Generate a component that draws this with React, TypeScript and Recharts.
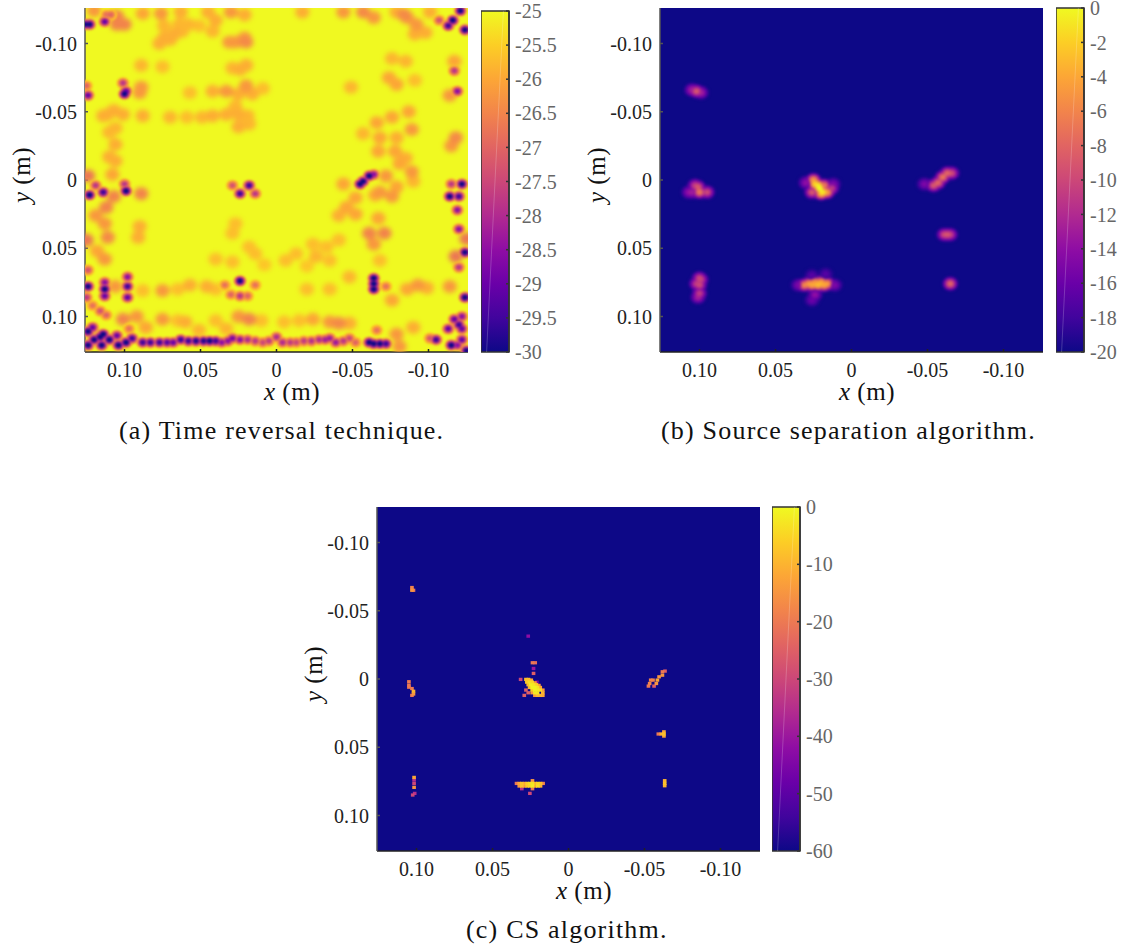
import {
  Area,
  AreaChart,
  CartesianGrid,
  Label,
  ReferenceArea,
  ReferenceLine,
  Scatter,
  ScatterChart,
  XAxis,
  YAxis,
} from 'recharts';

type HeatCell = [number, number, number]; // x (m), y (m), level

const FONT = '"Liberation Serif", serif';
const PLASMA = ['#0d0887', '#41049d', '#6a00a8', '#8f0da4', '#b12a90', '#cc4778', '#e16462', '#f2844b', '#fca636', '#fcce25', '#f0f921'];

const axisTicks = [0.1, 0.05, 0, -0.05, -0.1];
const trBarTicks = [-25, -25.5, -26, -26.5, -27, -27.5, -28, -28.5, -29, -29.5, -30];
const sepBarTicks = [0, -2, -4, -6, -8, -10, -12, -14, -16, -18, -20];
const csBarTicks = [0, -10, -20, -30, -40, -50, -60];

// time reversal map
const trTopLeft: HeatCell[] = [
  [0.123, -0.114, -30], [0.126, -0.114, -30], [0.113, -0.116, -29], [0.109, -0.121, -27], [0.105, -0.12, -26.5],
  [0.112, -0.121, -26.8], [0.1, -0.114, -26.5], [0.105, -0.114, -26.5], [0.088, -0.122, -26], [0.076, -0.122, -26.2],
  [0.063, -0.123, -25.9], [0.045, -0.123, -25.9], [0.03, -0.123, -26.2], [0.021, -0.121, -25.9], [0.12, -0.124, -26.2],
  [0.07, -0.103, -25.9], [0.077, -0.1, -25.9], [0.074, -0.104, -25.9], [0.067, -0.107, -25.9], [0.062, -0.109, -25.8],
  [0.064, -0.114, -25.8], [0.058, -0.114, -25.8], [0.051, -0.113, -25.7], [0.04, -0.117, -25.9], [0.042, -0.109, -25.8],
  [0.074, -0.113, -25.8], [0.027, -0.101, -26.2], [0.031, -0.101, -26.2], [0.02, -0.101, -26.4], [0.021, -0.104, -26.2],
  [0.024, -0.081, -25.9], [0.02, -0.084, -25.9], [0.029, -0.082, -25.8], [0.089, -0.084, -25.8], [0.075, -0.083, -25.7],
  [0.101, -0.071, -27.8], [0.1, -0.063, -30], [0.099, -0.065, -29], [0.125, -0.069, -27], [0.124, -0.062, -29],
  [0.089, -0.068, -26.2], [0.09, -0.064, -26.2], [0.033, -0.065, -26.2], [0.042, -0.065, -25.9], [0.02, -0.069, -26.2],
  [0.016, -0.063, -25.9], [0.025, -0.063, -25.9], [0.057, -0.064, -25.7], [0.009, -0.067, -25.7],
  [0.111, -0.048, -25.9], [0.107, -0.051, -25.9], [0.114, -0.047, -25.9], [0.101, -0.048, -25.9], [0.088, -0.047, -25.9],
  [0.07, -0.046, -25.8], [0.059, -0.046, -25.7], [0.049, -0.046, -25.8], [0.042, -0.047, -25.9], [0.033, -0.048, -25.9],
  [0.025, -0.048, -25.9], [0.019, -0.047, -25.8], [0.027, -0.054, -25.8], [0.025, -0.039, -25.9], [0.018, -0.041, -25.8],
  [0.106, -0.038, -25.8], [0.11, -0.035, -25.8], [0.106, -0.026, -25.9], [0.11, -0.017, -25.9], [0.106, -0.014, -25.9],
  [0.108, -0.004, -26], [0.124, -0.003, -26.7],
];

const trMiddleLeft: HeatCell[] = [
  [0.119, 0.004, -27.8], [0.123, 0.011, -30], [0.114, 0.009, -29.5], [0.099, 0.008, -30], [0.1, 0.003, -27.8],
  [0.089, 0.01, -26.5], [0.029, 0.004, -27.3], [0.024, 0.01, -29.5], [0.018, 0.004, -29.5], [0.014, 0.01, -27.8],
  [0.112, 0.02, -26.5], [0.107, 0.012, -26.5], [0.119, 0.026, -26.2], [0.113, 0.032, -26.2], [0.111, 0.042, -26.4],
  [0.125, 0.044, -26.7], [0.118, 0.052, -26], [0.113, 0.058, -26.2], [0.09, 0.034, -25.9], [0.091, 0.042, -25.9],
  [0.029, 0.039, -25.7], [0.027, 0.032, -25.7], [0.018, 0.049, -25.7], [0.014, 0.054, -25.7], [0.04, 0.058, -25.7],
  [0.029, 0.06, -25.7],
];

const trBottomLeft: HeatCell[] = [
  [0.124, 0.078, -30], [0.113, 0.08, -30], [0.098, 0.078, -29.5], [0.098, 0.071, -28.5], [0.098, 0.086, -29],
  [0.113, 0.075, -28.5], [0.113, 0.085, -29], [0.124, 0.066, -27.3], [0.125, 0.086, -27.8], [0.106, 0.078, -26.2],
  [0.075, 0.081, -26.2], [0.024, 0.074, -30], [0.034, 0.077, -26.8], [0.014, 0.077, -26.8], [0.024, 0.085, -27.8],
  [0.03, 0.084, -27], [0.019, 0.085, -27], [0.057, 0.077, -25.9], [0.046, 0.078, -25.9], [0.088, 0.081, -25.7],
  [0.116, 0.096, -27.3], [0.112, 0.099, -27], [0.121, 0.092, -26.8], [0.121, 0.108, -29], [0.114, 0.113, -30],
  [0.11, 0.117, -30], [0.105, 0.114, -29], [0.116, 0.115, -30], [0.124, 0.111, -30], [0.124, 0.121, -30],
  [0.12, 0.117, -30], [0.115, 0.121, -30], [0.104, 0.121, -30], [0.099, 0.119, -30], [0.095, 0.116, -29.5],
  [0.092, 0.1, -26.2], [0.075, 0.102, -26.2], [0.06, 0.104, -25.9], [0.025, 0.1, -26.2], [0.018, 0.102, -26.5],
  [0.086, 0.108, -26], [0.051, 0.11, -25.8], [0.033, 0.109, -25.8], [0.101, 0.102, -26.5], [0.097, 0.109, -26.8],
  [0.065, 0.103, -25.7], [0.04, 0.103, -25.7], [0.01, 0.103, -25.7], [-0.005, 0.104, -25.7], [-0.015, 0.103, -25.7],
  [0.065, 0.08, -25.7], [0.04, 0.08, -25.7], [-0.02, 0.08, -25.7], [-0.035, 0.08, -25.7], [0.008, 0.062, -25.6],
];

const trBottomBand: HeatCell[] = [
  [0.088, 0.119, -29.5], [0.083, 0.119, -29.5], [0.077, 0.119, -29.5], [0.072, 0.119, -29.2], [0.068, 0.119, -29],
  [0.063, 0.117, -29.5], [0.058, 0.118, -29.5], [0.053, 0.118, -29.8], [0.048, 0.118, -29.8], [0.044, 0.118, -30],
  [0.04, 0.118, -29.5], [0.036, 0.119, -28.5], [0.032, 0.118, -28.5], [0.029, 0.116, -28.8], [0.024, 0.117, -28.5],
  [0.019, 0.117, -28], [0.014, 0.118, -27.8], [0.009, 0.119, -27.5], [0.005, 0.118, -27.7], [0, 0.115, -28],
  [-0.004, 0.119, -28], [-0.009, 0.119, -27.7], [-0.013, 0.119, -27.5], [-0.018, 0.118, -27.7], [-0.023, 0.118, -27.9],
  [-0.028, 0.117, -28], [-0.032, 0.117, -28.2], [-0.035, 0.116, -28.3], [-0.039, 0.119, -28.3], [-0.044, 0.118, -27.8],
  [-0.048, 0.116, -27.5], [-0.052, 0.119, -27],
];

const trTopRight: HeatCell[] = [
  [-0.044, -0.123, -26.2], [-0.057, -0.123, -26.4], [-0.064, -0.119, -26.2], [-0.017, -0.123, -25.9], [-0.084, -0.121, -26.4],
  [-0.086, -0.119, -26.2], [-0.092, -0.114, -26.2], [-0.079, -0.123, -25.9], [-0.101, -0.123, -25.9], [-0.113, -0.113, -29.5],
  [-0.116, -0.117, -30], [-0.107, -0.117, -27.3], [-0.121, -0.124, -30], [-0.124, -0.11, -30], [-0.098, -0.108, -25.9],
  [-0.091, -0.107, -25.9], [-0.076, -0.089, -25.8], [-0.085, -0.087, -25.8], [-0.074, -0.075, -26], [-0.079, -0.07, -26],
  [-0.091, -0.073, -25.7], [-0.049, -0.068, -25.8], [-0.117, -0.08, -27.8], [-0.119, -0.065, -28.5], [-0.117, -0.087, -26],
  [-0.114, -0.062, -26.2], [-0.118, -0.031, -26.4], [-0.115, -0.025, -26.2], [-0.087, -0.05, -26], [-0.076, -0.046, -26],
  [-0.066, -0.042, -26], [-0.089, -0.037, -26.2], [-0.068, -0.031, -26], [-0.079, -0.031, -25.9], [-0.078, -0.021, -26],
  [-0.067, -0.021, -26], [-0.089, -0.006, -26.2], [-0.085, -0.016, -25.9], [-0.081, -0.012, -26], [-0.072, -0.003, -26.2],
  [-0.057, -0.034, -25.8], [-0.061, -0.003, -30], [-0.055, 0.003, -30], [-0.057, 0.001, -30], [-0.064, -0.004, -28.5],
  [-0.044, 0.003, -26], [-0.122, 0.003, -30], [-0.114, 0.012, -30], [-0.12, 0.012, -29.5], [-0.115, 0.003, -27.8],
  [-0.09, 0.001, -25.8], [-0.079, 0.005, -26], [-0.068, 0.009, -26.2],
];

const trBottomRight: HeatCell[] = [
  [-0.119, 0.022, -28.5], [-0.12, 0.036, -28.5], [-0.124, 0.053, -30], [-0.12, 0.064, -27.8], [-0.118, 0.056, -26.7],
  [-0.125, 0.043, -26.7], [-0.052, 0.013, -26], [-0.065, 0.011, -26], [-0.076, 0.012, -26.2], [-0.046, 0.02, -26],
  [-0.052, 0.025, -26], [-0.041, 0.026, -25.9], [-0.061, 0.039, -26.5], [-0.071, 0.039, -26.5], [-0.064, 0.047, -26.2],
  [-0.067, 0.028, -26], [-0.026, 0.056, -25.8], [-0.013, 0.054, -25.7], [-0.033, 0.049, -25.7], [-0.024, 0.047, -25.7],
  [-0.006, 0.059, -25.7], [-0.035, 0.059, -25.7], [-0.02, 0.063, -25.6], [-0.041, 0.044, -25.7], [-0.068, 0.059, -25.7],
  [-0.064, 0.076, -30], [-0.064, 0.072, -30], [-0.064, 0.08, -30], [-0.072, 0.078, -26.8], [-0.076, 0.088, -26],
  [-0.048, 0.071, -25.8], [-0.086, 0.08, -26], [-0.093, 0.077, -26.2], [-0.099, 0.079, -25.9], [-0.114, 0.078, -26.2],
  [-0.124, 0.086, -30], [-0.117, 0.102, -29], [-0.113, 0.109, -29], [-0.12, 0.106, -29.5], [-0.122, 0.1, -28.5],
  [-0.122, 0.109, -29], [-0.122, 0.117, -29], [-0.105, 0.117, -29.5], [-0.101, 0.116, -27.3], [-0.115, 0.121, -30],
  [-0.125, 0.125, -30], [-0.119, 0.121, -28.5], [-0.035, 0.104, -26.2], [-0.041, 0.105, -26.4], [-0.024, 0.102, -26],
  [-0.048, 0.105, -25.9], [-0.064, 0.12, -30], [-0.068, 0.12, -30], [-0.061, 0.119, -30], [-0.072, 0.12, -29.5],
  [-0.066, 0.11, -26.8], [-0.079, 0.113, -26.2], [-0.081, 0.122, -26.2], [-0.09, 0.108, -25.9],
];

// source separation map
const sepLeftSources: HeatCell[] = [
  [0.102, -0.065, -9], [0.105, -0.066, -13], [0.099, -0.064, -13],
  [0.103, 0.004, -11], [0.1, 0.009, -7], [0.105, 0.009, -13], [0.095, 0.009, -10], [0.107, 0.009, -14], [0.101, 0.005, -9],
  [0.1, 0.072, -10], [0.1, 0.077, -10], [0.1, 0.083, -11], [0.102, 0.076, -11], [0.099, 0.073, -11], [0.101, 0.086, -13],
];
const sepCenterSources: HeatCell[] = [
  [0.021, 0.006, 0], [0.024, 0.003, -2], [0.019, 0.009, -1], [0.016, 0.009, -5], [0.026, 0.009, -9], [0.025, 0, -5],
  [0.018, 0.004, -7], [0.013, 0.006, -11], [0.022, 0.004, -1], [0.02, 0.01, -4], [0.03, 0.002, -14], [0.012, 0.003, -15],
  [0.031, 0.077, -6], [0.026, 0.077, -4], [0.022, 0.077, -3], [0.018, 0.077, -4], [0.02, 0.075, -4], [0.024, 0.075, -5],
  [0.028, 0.076, -5], [0.016, 0.076, -5],
  [0.024, 0.084, -14], [0.026, 0.088, -16], [0.035, 0.077, -15], [0.011, 0.077, -15], [0.017, 0.069, -17], [0.026, 0.07, -17],
];
const sepRightSources: HeatCell[] = [
  [-0.063, -0.005, -8], [-0.06, -0.002, -7], [-0.057, 0.002, -8], [-0.054, 0.004, -9], [-0.066, -0.005, -10], [-0.048, 0.003, -15],
  [-0.063, 0.04, -9], [-0.061, 0.04, -10], [-0.065, 0.04, -11],
  [-0.065, 0.076, -8],
];

// compressed sensing map
const csCenterSource: HeatCell[] = [
  [0.028, 0.0003, -8], [0.0263, 0.0003, -8], [0.0245, 0.0008, -12],
  [0.0274, 0.0023, -7], [0.0256, 0.0023, -4], [0.0239, 0.0023, -5], [0.0221, 0.0028, -14],
  [0.0265, 0.0042, -9], [0.0248, 0.0042, -2], [0.023, 0.0042, -3], [0.0212, 0.0042, -6], [0.0195, 0.0047, -14],
  [0.0256, 0.0062, -9], [0.0239, 0.0062, -1], [0.0221, 0.0062, -1], [0.0204, 0.0062, -3], [0.0186, 0.0062, -12],
  [0.0239, 0.0081, -6], [0.0221, 0.0081, -1], [0.0204, 0.0081, -2], [0.0186, 0.0081, -4], [0.0169, 0.0081, -14],
  [0.0239, 0.0101, -14], [0.0221, 0.0101, -2], [0.0204, 0.0101, -3], [0.0169, 0.0101, -10],
  [0.0221, 0.012, -14], [0.0204, 0.012, -9], [0.0186, 0.012, -10], [0.0169, 0.012, -12],
  [0.0315, 0.0003, -30], [0.0237, -0.0119, -20], [0.0219, -0.0119, -22], [0.023, -0.0077, -40], [0.023, -0.0041, -25],
  [0.0265, -0.0314, -42], [0.0291, 0.012, -25], [0.028, 0.0081, -25], [0.0265, 0.0101, -25], [0.0208, 0.0023, -45],
];
const csLeftSources: HeatCell[] = [
  [0.103, -0.065, -15], [0.103, -0.067, -18], [0.102, -0.065, -20],
  [0.105, 0.002, -20], [0.105, 0.0045, -20], [0.105, 0.006, -20], [0.103, 0.007, -20], [0.102, 0.009, -10], [0.102, 0.011, -15], [0.103, 0.012, -20],
  [0.1016, 0.0721, -12], [0.1016, 0.074, -35], [0.1016, 0.0765, -30], [0.1016, 0.0794, -15], [0.1012, 0.0838, -35], [0.1025, 0.085, -30],
];
const csRightSources: HeatCell[] = [
  [-0.0635, -0.0058, -25], [-0.0618, -0.0053, -20], [-0.0618, -0.0028, -15], [-0.0596, -0.0016, -15], [-0.0585, 0.0008, -12],
  [-0.0578, 0.0033, -15], [-0.0563, 0.0052, -25], [-0.0556, 0.0008, -18], [-0.0541, 0.0008, -18], [-0.0534, 0.0033, -18], [-0.0526, 0.0052, -20],
  [-0.0628, 0.0403, -8], [-0.0611, 0.0403, -10], [-0.0591, 0.0403, -20], [-0.0628, 0.0387, -12], [-0.0628, 0.0418, -12],
  [-0.0633, 0.0765, -8], [-0.0633, 0.0745, -10], [-0.0633, 0.0782, -10],
];
const csBottomSource: HeatCell[] = [
  [0.0342, 0.0765, -20], [0.0324, 0.0765, -12], [0.0307, 0.0765, -8], [0.0289, 0.0765, -12], [0.0272, 0.0765, -6], [0.0254, 0.0765, -4],
  [0.0237, 0.0765, -3], [0.0219, 0.0765, -10], [0.0202, 0.0765, -5], [0.0184, 0.0765, -8], [0.0167, 0.0765, -18],
  [0.0324, 0.0784, -14], [0.0307, 0.0784, -8], [0.0289, 0.0784, -15], [0.0272, 0.0784, -7], [0.0254, 0.0784, -5],
  [0.0237, 0.0784, -2], [0.0219, 0.0784, -12], [0.0202, 0.0784, -4], [0.0184, 0.0784, -10], [0.0237, 0.0745, -15],
  [0.0307, 0.0804, -35], [0.0237, 0.0804, -20], [0.0254, 0.0838, -30],
];

const axisDomain = [-0.126, 0.126];

// soft maps are painted as rings so the falloff around a peak follows the colour map
const softRings = [
  { scale: 1.7, share: 0.3 },
  { scale: 1.2, share: 0.62 },
  { scale: 0.72, share: 1 },
];
const hardRings = [{ scale: 1, share: 1 }];

function heatColor(level: number, lo: number, hi: number) {
  const t = Math.min(1, Math.max(0, (level - lo) / (hi - lo))) * (PLASMA.length - 1);
  const i = Math.min(PLASMA.length - 2, Math.floor(t));
  const mix = (s: number) => {
    const a = parseInt(PLASMA[i].slice(s, s + 2), 16);
    const b = parseInt(PLASMA[i + 1].slice(s, s + 2), 16);
    return Math.round(a + (b - a) * (t - i));
  };
  return `rgb(${mix(1)},${mix(3)},${mix(5)})`;
}

const PLOT_W = 383;
const PLOT_H = 344;
const CHART_W = 475;
const CHART_H = 430;

interface HeatPanelProps {
  name: string;
  left: number;
  top: number;
  cells: HeatCell[];
  lo: number;
  hi: number;
  base: number;
  cellSize: number;
  blur: number;
  square?: boolean;
  paleCut?: number; // cells closer to the background than this get a wide, faint brush
}

function HeatPanel({ name, left, top, cells, lo, hi, base, cellSize, blur, square, paleCut = 0 }: HeatPanelProps) {
  const w = (cellSize * PLOT_W) / 0.252;
  const h = (cellSize * PLOT_H) / 0.252;
  // cells furthest from the background go on top
  const sorted = cells
    .map(([x, y, level]) => ({ x, y, level }))
    .sort((p, q) => Math.abs(p.level - base) - Math.abs(q.level - base));
  const pale = sorted.filter((p) => Math.abs(p.level - base) < paleCut);
  const peaks = sorted.filter((p) => Math.abs(p.level - base) >= paleCut);
  const rings = square ? hardRings : softRings;
  const tick = { fontSize: 20, fill: '#222', fontFamily: FONT };
  const title = { fontFamily: FONT, fontSize: 25, fill: '#111', letterSpacing: 0.5 };

  const brush = (ringScale: number, share: number, round: boolean) => (p: any) => (
    <rect
      x={p.cx - (w * ringScale) / 2}
      y={p.cy - (h * ringScale) / 2}
      width={w * ringScale}
      height={h * ringScale}
      rx={round ? (w * ringScale) / 2 : 0}
      ry={round ? (h * ringScale) / 2 : 0}
      fill={heatColor(base + (p.payload.level - base) * share, lo, hi)}
    />
  );

  return (
    <div style={{ position: 'absolute', left, top }}>
      <style>{`.heat-${name} { filter: blur(${blur}px); } .pale-${name} { filter: blur(${blur * 2.4}px); }`}</style>
      <ScatterChart width={CHART_W} height={CHART_H} margin={{ top: 8, right: 7, bottom: 0, left: 0 }}>
        <CartesianGrid horizontal={false} vertical={false} fill={heatColor(base, lo, hi)} fillOpacity={1} />
        <XAxis
          type="number"
          dataKey="x"
          reversed
          allowDataOverflow
          domain={axisDomain}
          ticks={axisTicks}
          interval={0}
          height={CHART_H - 8 - PLOT_H}
          tick={tick}
          tickSize={-3}
          tickMargin={14}
          tickFormatter={(v: number) => (v === 0 ? '0' : v.toFixed(2))}
          stroke="#222"
          strokeWidth={1.5}
        >
          <Label
            content={() => (
              <text x={264} y={400} {...title}>
                <tspan fontStyle="italic">x</tspan> (m)
              </text>
            )}
          />
        </XAxis>
        <XAxis
          xAxisId="top"
          orientation="top"
          type="number"
          reversed
          allowDataOverflow
          domain={axisDomain}
          ticks={axisTicks}
          interval={0}
          height={0}
          tickSize={-3}
          tickFormatter={() => ''}
          stroke="#555"
          strokeWidth={1.5}
        />
        <YAxis
          type="number"
          dataKey="y"
          reversed
          allowDataOverflow
          domain={axisDomain}
          ticks={axisTicks}
          interval={0}
          width={85}
          tick={tick}
          tickSize={-3}
          tickMargin={11}
          tickFormatter={(v: number) => (v === 0 ? '0' : v.toFixed(2))}
          stroke="#555"
          strokeWidth={1.5}
        >
          <Label
            content={() => (
              <text x={30} y={175} textAnchor="middle" transform="rotate(-90 30 175)" {...title}>
                <tspan fontStyle="italic">y</tspan> (m)
              </text>
            )}
          />
        </YAxis>
        <YAxis
          yAxisId="right"
          orientation="right"
          type="number"
          reversed
          allowDataOverflow
          domain={axisDomain}
          ticks={axisTicks}
          interval={0}
          width={0}
          tickSize={-3}
          tickFormatter={() => ''}
          stroke="#222"
          strokeWidth={1.5}
        />
        {pale.length > 0 && (
          <Scatter className={`pale-${name}`} data={pale} isAnimationActive={false} shape={brush(1.9, 1, true)} />
        )}
        {rings.map((ring) => (
          <Scatter
            key={ring.scale}
            className={`heat-${name}`}
            data={peaks}
            isAnimationActive={false}
            shape={brush(ring.scale, ring.share, !square)}
          />
        ))}
      </ScatterChart>
    </div>
  );
}

const barEnds = [0, 1];

interface ColorbarProps {
  name: string;
  left: number;
  top: number;
  height: number;
  lo: number;
  hi: number;
  ticks: number[];
}

function Colorbar({ name, left, top, height, lo, hi, ticks }: ColorbarProps) {
  const data = barEnds.map((x) => ({ x, band: [lo, hi] }));
  return (
    <div style={{ position: 'absolute', left, top: top - 14 }}>
      <AreaChart width={28 + 75} height={height + 28} data={data} margin={{ top: 14, right: 0, bottom: 14, left: 0 }}>
        <defs>
          <linearGradient id={`bar-${name}`} x1="0" y1="1" x2="0" y2="0">
            {PLASMA.map((c, i) => (
              <stop key={c} offset={i / (PLASMA.length - 1)} stopColor={c} />
            ))}
          </linearGradient>
        </defs>
        <XAxis type="number" dataKey="x" domain={[0, 1]} hide />
        <YAxis
          type="number"
          orientation="right"
          domain={[lo, hi]}
          ticks={ticks}
          interval={0}
          width={75}
          tick={{ fontSize: 20, fill: '#666', fontFamily: FONT }}
          tickSize={-3}
          tickMargin={9}
          tickFormatter={(v: number) => String(v)}
          stroke="#333"
          strokeWidth={1.5}
        />
        <Area dataKey="band" stroke="none" fill={`url(#bar-${name})`} fillOpacity={1} isAnimationActive={false} dot={false} activeDot={false} />
        <ReferenceLine
          segment={[
            { x: 0.2, y: lo },
            { x: 0.8, y: hi },
          ]}
          stroke="rgba(255,255,255,0.2)"
          strokeWidth={1}
        />
        <ReferenceArea x1={0} x2={1} y1={lo} y2={hi} fill="none" stroke="#333" strokeWidth={1.5} />
      </AreaChart>
    </div>
  );
}

function Caption({ left, top, children }: { left: number; top: number; children: string }) {
  return (
    <div style={{ position: 'absolute', left, top, fontFamily: FONT, fontSize: 26, letterSpacing: 1.2, color: '#111', whiteSpace: 'nowrap' }}>
      {children}
    </div>
  );
}

export default function App() {
  return (
    <div style={{ position: 'absolute', left: 0, top: 0, width: 1131, height: 949, overflow: 'hidden' }}>
      <HeatPanel
        name="tr"
        left={0}
        top={0}
        cells={[...trTopLeft, ...trMiddleLeft, ...trBottomLeft, ...trBottomBand, ...trTopRight, ...trBottomRight]}
        lo={-30}
        hi={-25}
        base={-25}
        cellSize={0.005}
        blur={1.2}
        paleCut={1.75}
      />
      <Colorbar name="tr" left={481} top={11} height={341} lo={-30} hi={-25} ticks={trBarTicks} />
      <Caption left={119} top={416}>(a) Time reversal technique.</Caption>

      <HeatPanel
        name="sep"
        left={575}
        top={0}
        cells={[...sepLeftSources, ...sepCenterSources, ...sepRightSources]}
        lo={-20}
        hi={0}
        base={-20}
        cellSize={0.006}
        blur={1.8}
      />
      <Colorbar name="sep" left={1056} top={8} height={344} lo={-20} hi={0} ticks={sepBarTicks} />
      <Caption left={661} top={416}>(b) Source separation algorithm.</Caption>

      <HeatPanel
        name="cs"
        left={292}
        top={499}
        cells={[...csCenterSource, ...csLeftSources, ...csRightSources, ...csBottomSource]}
        lo={-60}
        hi={0}
        base={-60}
        cellSize={0.0024}
        blur={0.5}
        square
      />
      <Colorbar name="cs" left={772} top={507} height={344} lo={-60} hi={0} ticks={csBarTicks} />
      <Caption left={466} top={915}>(c) CS algorithm.</Caption>
    </div>
  );
}
